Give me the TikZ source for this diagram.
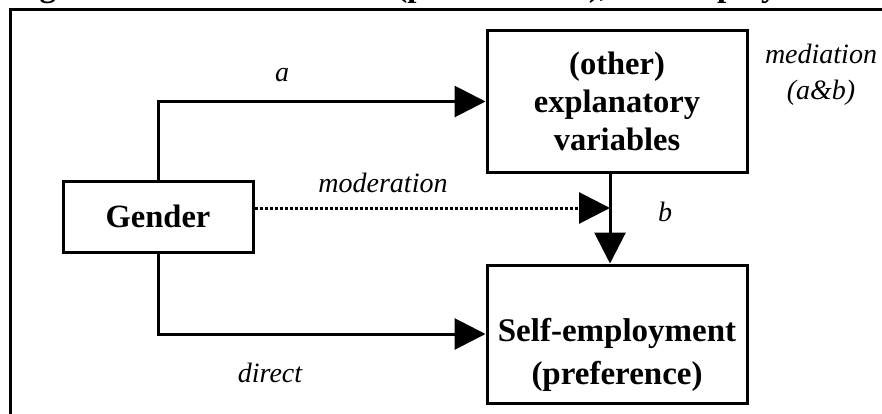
\documentclass[tikz,border=0pt]{standalone}
\usepackage{fontspec}
\setmainfont{Liberation Serif}
\usetikzlibrary{arrows.meta}
\tikzset{
  boxstyle/.style={draw, line width=3pt, inner sep=0pt, align=center},
  boxfont/.style={font=\bfseries\fontsize{32.5}{38}\selectfont},
  lab/.style={font=\itshape\fontsize{28}{36}\selectfont, inner sep=0pt, align=center},
  conn/.style={line width=3pt, -{Triangle[length=31pt,width=31pt]}},
  dotconn/.style={line width=3pt, dash pattern=on 3pt off 2pt, -{Triangle[length=31pt,width=31pt]}},
}
\begin{document}
\begin{tikzpicture}[x=1pt,y=-1pt]
\useasboundingbox (0,0) rectangle (882,414);
% clipped title
\begin{scope}
\clip (0,0) rectangle (882,414);
\node[anchor=base west, inner sep=0pt, font=\bfseries\fontsize{33}{38}\selectfont] (title) at (10,-3) {Figure 1: Gender and firm (performance), self-employment};
\end{scope}
% frame (cropped at right and bottom)
\draw[line width=3pt] (10,416) -- (10,10) -- (884,10);
% boxes
\node[boxstyle, boxfont, minimum width=260pt, minimum height=141pt] (expl) at (617,101.5) {(other)\\explanatory\\variables};
\node[boxstyle, boxfont, minimum width=190pt, minimum height=71pt] (gender) at (158,216.5) {Gender};
\node[boxstyle, minimum width=260pt, minimum height=138pt] (self) at (617,334) {};
\node[boxfont, align=center, inner sep=0pt, font=\bfseries\fontsize{33}{43}\selectfont] (selftxt) at (617,355) {Self-employment\\(preference)};
\coordinate (bx) at (610,0);
% connectors
\draw[conn] (gender.north) |- (expl.west);
\draw[conn] (gender.south) |- (self.west);
\draw[conn] (expl.south -| bx) -- (self.north -| bx);
\draw[dotconn] ([yshift=8.5pt]gender.east) -- ([yshift=8.5pt]gender.east -| bx);
% labels
\node[lab] (la) at (282,75) {a};
\node[lab] (lmod) at (383,183) {moderation};
\node[lab] (lb) at (665,212) {b};
\node[lab] (ldir) at (270,373) {direct};
\node[lab] (lmed) at (821,75) {mediation\\(a\&b)};
\end{tikzpicture}
\end{document}
